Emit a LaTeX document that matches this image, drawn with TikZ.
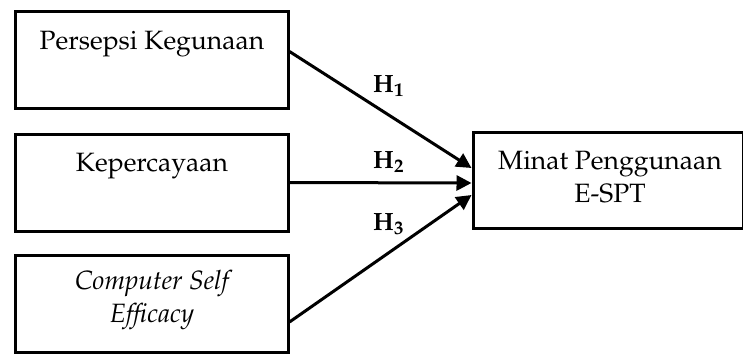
\documentclass[tikz,border=0pt]{standalone}
\usepackage[T1]{fontenc}
\usepackage{mathpazo}
\usetikzlibrary{arrows.meta,calc}
\begin{document}
\begin{tikzpicture}[x=1pt,y=-1pt,
  box/.style={draw,line width=3pt,inner sep=0pt},
  txt/.style={font=\fontsize{26.5}{32.5}\selectfont,inner sep=0pt,align=center,anchor=base},
  hl/.style={font=\fontsize{25}{30}\selectfont\bfseries,inner sep=0pt,anchor=base west},
  arr/.style={line width=3pt,-{Triangle[length=15pt,width=15pt]}}]
\useasboundingbox (0,0) rectangle (743,354);
\node[box,minimum width=273pt,minimum height=97pt] (b1) at (151.5,59.5) {};
\node[box,minimum width=273pt,minimum height=97pt] (b2) at (151.5,182.5) {};
\node[box,minimum width=273pt,minimum height=97pt] (b3) at (151.5,303.5) {};
\node[box,minimum width=270pt,minimum height=96pt] (b4) at (608,180) {};
\node[txt] (t1) at (152,49) {Persepsi Kegunaan};
\node[txt] (t2) at (152,171) {Kepercayaan};
\node[txt] (t3) at (152,322) {\itshape Computer Self\\\itshape Efficacy};
\node[txt] (t4) at (610,202) {Minat Penggunaan\\E-SPT};
\coordinate (s1) at ($(b1.east)+(0,-8)$);
\coordinate (e1) at ($(b4.west)+(0,-12)$);
\coordinate (s2) at (b2.east);
\coordinate (e2) at ($(b4.west)+(0,3)$);
\coordinate (s3) at ($(b3.east)+(0,18.5)$);
\coordinate (e3) at ($(b4.west)+(0,15)$);
\draw[arr] (s1) -- (e1);
\draw[arr] (s2) -- (e2);
\draw[arr] (s3) -- (e3);
\node[hl] (h1) at (373,92) {H\textsubscript{1}};
\node[hl] (h2) at (373,168) {H\textsubscript{2}};
\node[hl] (h3) at (373,230) {H\textsubscript{3}};
\end{tikzpicture}
\end{document}
